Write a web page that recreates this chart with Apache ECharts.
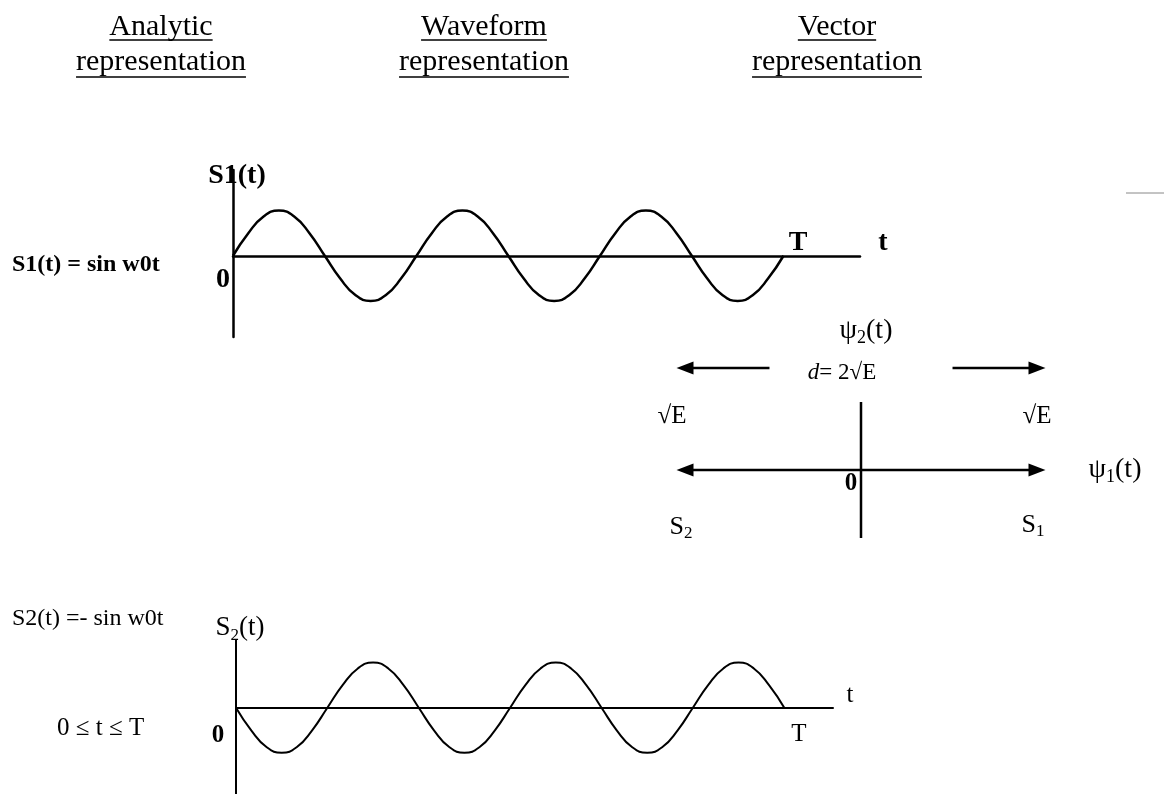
<!DOCTYPE html>
<html>
<head>
<meta charset="utf-8">
<title>Signal representations</title>
<script src="https://cdn.jsdelivr.net/npm/echarts@6.0.0/dist/echarts.min.js"></script>
<style>
    html, body { margin: 0; padding: 0; background: #fff; }
    #chart { width: 1164px; height: 794px; }
</style>
</head>
<body>
<div id="chart"></div>
<script>
// 波形采样：每 1/12 周期取一点，共三个周期
const s1Values = [
    0, 0.5, 0.87, 1, 0.87, 0.5, 0, -0.5, -0.87, -1, -0.87, -0.5,
    0, 0.5, 0.87, 1, 0.87, 0.5, 0, -0.5, -0.87, -1, -0.87, -0.5,
    0, 0.5, 0.87, 1, 0.87, 0.5, 0, -0.5, -0.87, -1, -0.87, -0.5,
    0
];
const s2Values = [
    0, -0.5, -0.87, -1, -0.87, -0.5, 0, 0.5, 0.87, 1, 0.87, 0.5,
    0, -0.5, -0.87, -1, -0.87, -0.5, 0, 0.5, 0.87, 1, 0.87, 0.5,
    0, -0.5, -0.87, -1, -0.87, -0.5, 0, 0.5, 0.87, 1, 0.87, 0.5,
    0
];

// 矢量图：信号点（单位 √E）
const s1Point = [1, 0];
const s2Point = [-1, 0];
const psi2Axis = [[0, -1], [0, 1]];
const distArrowY = 1.5;
const distArrowStart = 0.52;

// 栏目标题
const headerTitles = ['Analytic', 'Waveform', 'Vector'];
const headerSubtitle = 'representation';

const FONT = '"Liberation Serif", "Times New Roman", serif';
const INK = '#000';

// 测量文字宽度（用于下划线）
const measureCtx = document.createElement('canvas').getContext('2d');
function textWidth(str, size, weight) {
    measureCtx.font = (weight || 'normal') + ' ' + size + 'px ' + FONT;
    return measureCtx.measureText(str).width;
}

function label(x, y, text, size, opts) {
    opts = opts || {};
    const align = opts.align || 'center';
    return {
        type: 'text',
        silent: true,
        z: 10,
        style: {
            x: x,
            y: y,
            text: text,
            fill: INK,
            fontFamily: FONT,
            fontSize: size,
            fontWeight: opts.weight || 'normal',
            align: align,
            textAlign: align,
            verticalAlign: 'middle',
            textVerticalAlign: 'middle',
            rich: opts.rich
        }
    };
}

function subRich(size, weight) {
    return {
        b: { fontFamily: FONT, fontSize: size, fontWeight: weight || 'normal', fill: INK, color: INK },
        s: { fontFamily: FONT, fontSize: Math.round(size * 0.64), fontWeight: weight || 'normal',
             fill: INK, color: INK, padding: [Math.round(size * 0.55), 0, 0, 0] },
        i: { fontFamily: FONT, fontSize: size, fontStyle: 'italic', fill: INK, color: INK }
    };
}

function hline(x1, x2, y, width, color) {
    return {
        type: 'line',
        silent: true,
        shape: { x1: x1, y1: y, x2: x2, y2: y },
        style: { stroke: color || INK, lineWidth: width || 1.5 }
    };
}

const graphics = [];

// 标题 + 下划线
const headerX = [161, 484, 837];
headerTitles.forEach(function (t, i) {
    const cx = headerX[i];
    graphics.push(label(cx, 27, t, 30));
    graphics.push(label(cx, 62, headerSubtitle, 30));
    const w1 = textWidth(t, 30);
    const w2 = textWidth(headerSubtitle, 30);
    graphics.push(hline(cx - w1 / 2, cx + w1 / 2, 40, 1.5));
    graphics.push(hline(cx - w2 / 2, cx + w2 / 2, 77, 1.5));
});

// 上方波形标注
graphics.push(label(12, 265, 'S1(t) = sin w0t', 24, { align: 'left', weight: 'bold' }));
graphics.push(label(237, 176, 'S1(t)', 28, { weight: 'bold' }));
graphics.push(label(223, 280, '0', 28, { weight: 'bold' }));
graphics.push(label(798, 243, 'T', 28, { weight: 'bold' }));
graphics.push(label(883, 243, 't', 28, { weight: 'bold' }));

// 矢量图标注
graphics.push(label(866, 331, '{b|ψ}{s|2}{b|(t)}', 28, { rich: subRich(28) }));
graphics.push(label(842, 373, '{i|d}{b|= 2√E}', 23, { rich: subRich(23) }));
graphics.push(label(672, 416, '√E', 25));
graphics.push(label(1037, 416, '√E', 25));
graphics.push(label(851, 484, '0', 25, { weight: 'bold' }));
graphics.push(label(1115, 470, '{b|ψ}{s|1}{b|(t)}', 28, { rich: subRich(28) }));
graphics.push(label(681, 527, '{b|S}{s|2}', 26, { rich: subRich(26) }));
graphics.push(label(1033, 525, '{b|S}{s|1}', 26, { rich: subRich(26) }));

// 下方波形标注
graphics.push(label(12, 619, 'S2(t) =- sin w0t', 24, { align: 'left' }));
graphics.push(label(57, 728, '0 ≤ t ≤ T', 25, { align: 'left' }));
graphics.push(label(240, 628, '{b|S}{s|2}{b|(t)}', 27, { rich: subRich(27) }));
graphics.push(label(218, 736, '0', 25, { weight: 'bold' }));
graphics.push(label(799, 734, 'T', 25));
graphics.push(label(850, 695, 't', 25));

// 扫描残留的短线
graphics.push(hline(1126, 1164, 193, 1, '#888'));

function waveAxes(gridIndex, xMax, yMin, yMax, width) {
    const lineStyle = { color: INK, width: width };
    return {
        x: {
            gridIndex: gridIndex, type: 'value', min: 0, max: xMax,
            axisLine: { show: true, onZero: true, lineStyle: lineStyle },
            axisTick: { show: false }, axisLabel: { show: false }, splitLine: { show: false }
        },
        y: {
            gridIndex: gridIndex, type: 'value', min: yMin, max: yMax,
            axisLine: { show: true, onZero: true, lineStyle: lineStyle },
            axisTick: { show: false }, axisLabel: { show: false }, splitLine: { show: false }
        }
    };
}

const topAxes = waveAxes(0, 41, -1.8, 1.9, 2.5);
const bottomAxes = waveAxes(1, 39.2, -2, 1.5, 2);

const arrowHead = function (pt, rot) {
    return { value: pt, symbol: 'triangle', symbolRotate: rot, symbolSize: [13, 17] };
};

const option = {
    animation: false,
    backgroundColor: '#fff',
    grid: [
        { left: 233, top: 170, width: 627, height: 167, outerBoundsMode: 'none' },
        { left: 236, top: 640, width: 597, height: 158, outerBoundsMode: 'none' },
        { left: 685, top: 368, width: 352, height: 170, outerBoundsMode: 'none' }
    ],
    xAxis: [
        topAxes.x,
        bottomAxes.x,
        { gridIndex: 2, type: 'value', min: -1, max: 1, show: false }
    ],
    yAxis: [
        topAxes.y,
        bottomAxes.y,
        { gridIndex: 2, type: 'value', min: -1, max: 1.5, show: false }
    ],
    series: [
        {
            name: 'S1(t)', type: 'line', xAxisIndex: 0, yAxisIndex: 0,
            data: s1Values.map(function (v, i) { return [i, v]; }),
            smooth: true, symbol: 'none', clip: false,
            lineStyle: { color: INK, width: 2.5 }
        },
        {
            name: 'S2(t)', type: 'line', xAxisIndex: 1, yAxisIndex: 1,
            data: s2Values.map(function (v, i) { return [i, v]; }),
            smooth: true, symbol: 'none', clip: false,
            lineStyle: { color: INK, width: 2 }
        },
        {
            // ψ1 轴：S2 ← 0 → S1
            name: 'psi1', type: 'line', xAxisIndex: 2, yAxisIndex: 2,
            data: [arrowHead(s2Point, 90), arrowHead(s1Point, -90)],
            symbol: 'triangle', itemStyle: { color: INK }, clip: false,
            lineStyle: { color: INK, width: 2.5 }
        },
        {
            name: 'psi2', type: 'line', xAxisIndex: 2, yAxisIndex: 2,
            data: psi2Axis, symbol: 'none', clip: false,
            lineStyle: { color: INK, width: 2.5 }
        },
        {
            name: 'dLeft', type: 'line', xAxisIndex: 2, yAxisIndex: 2,
            data: [{ value: [-distArrowStart, distArrowY], symbol: 'none' },
                   arrowHead([s2Point[0], distArrowY], 90)],
            symbol: 'triangle', itemStyle: { color: INK }, clip: false,
            lineStyle: { color: INK, width: 2.5 }
        },
        {
            name: 'dRight', type: 'line', xAxisIndex: 2, yAxisIndex: 2,
            data: [{ value: [distArrowStart, distArrowY], symbol: 'none' },
                   arrowHead([s1Point[0], distArrowY], -90)],
            symbol: 'triangle', itemStyle: { color: INK }, clip: false,
            lineStyle: { color: INK, width: 2.5 }
        }
    ],
    graphic: graphics
};

const chart = echarts.init(document.getElementById('chart'));
chart.setOption(option);
</script>
</body>
</html>
